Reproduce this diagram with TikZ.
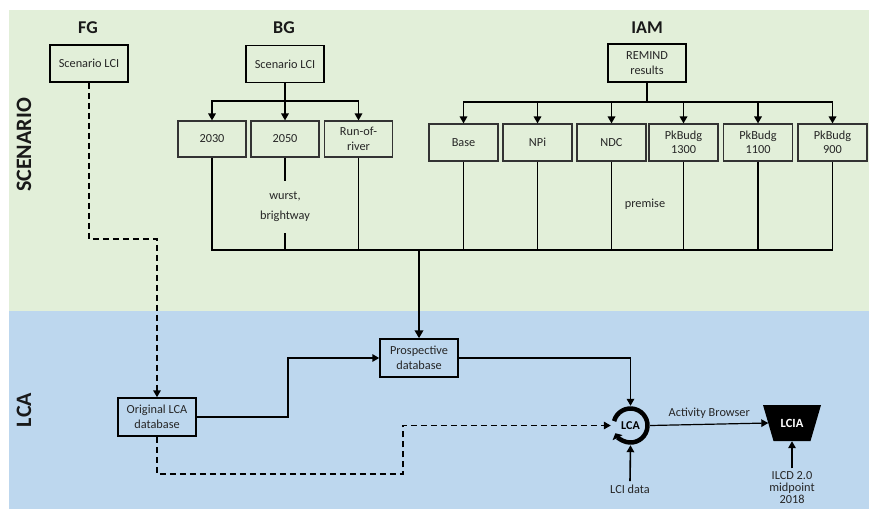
\documentclass[tikz,border=0pt]{standalone}
\usepackage{fontspec}
\setmainfont{Carlito}
\usetikzlibrary{arrows.meta}
\definecolor{scgreen}{HTML}{E2EFD9}
\definecolor{lcablue}{HTML}{BDD7EE}
\begin{document}
\begin{tikzpicture}[x=1pt,y=-1pt,
  box/.style={draw=black!80, line width=1.1pt, minimum width=68pt, minimum height=36pt,
    align=center, font=\fontsize{12.3}{14.5}\selectfont, text=black!85, inner sep=1pt},
  bigbox/.style={box, draw=black, line width=1.8pt, minimum width=78pt, minimum height=37pt},
  title/.style={font=\bfseries\fontsize{18}{20}\selectfont, text=black!90},
  bigtitle/.style={font=\bfseries\fontsize{22}{24}\selectfont, text=black!90, rotate=90},
  lbl/.style={font=\fontsize{12.3}{14}\selectfont, text=black!85, align=center},
  conn/.style={line width=1.6pt},
  tip/.style={-{Triangle[length=7pt,width=7.5pt]}},
  arr/.style={conn, tip},
  dline/.style={line width=1.6pt, dash pattern=on 6pt off 4pt}
]
% section backgrounds
\fill[scgreen] (9,10) rectangle (869,311);
\fill[lcablue] (9,311) rectangle (869,509);
\useasboundingbox (0,0) rectangle (869,509);

% column and section titles
\node[title] (fg) at (88,28) {FG};
\node[title] (bg) at (284,28) {BG};
\node[title] (iam) at (647,28) {IAM};
\node[bigtitle] (scen) at (24,145) {SCENARIO};
\node[bigtitle] (lcat) at (24,410) {LCA};

% scenario sources
\node[bigbox] (fglci) at (89,63.5) {Scenario LCI};
\node[bigbox] (bglci) at (285,64) {Scenario LCI};
\node[bigbox, minimum height=38pt] (remind) at (647,63) {REMIND\\results};

% background variants
\node[box] (y2030) at (212,139) {2030};
\node[box] (y2050) at (285,139) {2050};
\node[box] (ror) at (358.5,139) {Run-of-\\river};

% IAM pathways
\node[box, minimum width=69pt, minimum height=37pt] (base) at (463.5,142.5) {Base};
\node[box, minimum width=69pt, minimum height=37pt] (npi) at (537.5,142.5) {NPi};
\node[box, minimum width=69pt, minimum height=37pt] (ndc) at (611.5,142.5) {NDC};
\node[box, minimum width=69pt, minimum height=37pt] (pk1300) at (683.5,142.5) {PkBudg\\1300};
\node[box, minimum width=69pt, minimum height=37pt] (pk1100) at (758,142.5) {PkBudg\\1100};
\node[box, minimum width=69pt, minimum height=37pt] (pk900) at (832.5,142.5) {PkBudg\\900};

% fan-out from the sources
\coordinate (bgbus) at (285,101);
\coordinate (iambus) at (647,102);
\draw[conn] (bglci.south) -- (bgbus);
\draw[arr] (bgbus) -| (y2030.north);
\draw[arr] (bgbus) -- (y2050.north);
\draw[arr] (bgbus) -| (ror.north);
\draw[line width=2.8pt] (remind.south) -- (iambus);
\draw[arr] (iambus) -| (base.north);
\draw[arr] (iambus) -| (npi.north);
\draw[arr] (iambus) -| (ndc.north);
\draw[arr] (iambus) -| (pk1300.north);
\draw[arr] (iambus) -| (pk1100.north);
\draw[arr] (iambus) -| (pk900.north);

% collecting bus
\coordinate (busL) at (210,250);
\node[lbl, inner ysep=11pt] (wurst) at (285,207) {wurst,\\[6pt]brightway};
\node[lbl] (premise) at (645,204) {premise};
\draw[conn] (y2030.south) -- (y2030.south |- busL) -- (pk900.south |- busL) -- (pk900.south);
\draw[conn] (y2050.south) -- (wurst.north);
\draw[conn] (wurst.south) -- (wurst.south |- busL);
\draw[conn] (ror.south) -- (ror.south |- busL);
\draw[conn] (base.south) -- (base.south |- busL);
\draw[conn] (npi.south) -- (npi.south |- busL);
\draw[conn] (ndc.south) -- (ndc.south |- busL);
\draw[conn] (pk1300.south) -- (pk1300.south |- busL);
\draw[conn] (pk1100.south) -- (pk1100.south |- busL);

% LCA part
\node[bigbox, line width=1.5pt, minimum height=38pt] (prosp) at (419,358) {Prospective\\database};
\node[bigbox, line width=1.5pt, minimum height=38pt] (orig) at (157,417) {Original LCA\\database};
\draw[line width=2.8pt, -{Triangle[length=8pt,width=8.5pt]}] (prosp.north |- busL) -- (prosp.north);

\node[circle, minimum size=39pt, inner sep=0pt, font=\bfseries\fontsize{12}{14}\selectfont] (lca) at (630.5,425.5) {LCA};
\draw[line width=4.5pt, -{Triangle[length=5pt,width=11pt]}] (lca.center) ++(-165:17) arc[start angle=-165, end angle=153, radius=17];

\fill[black] (763,405) -- (821,405) -- (810.5,441) -- (773.5,441) -- cycle;
\node[inner sep=0pt, minimum width=47pt, minimum height=36pt, text=white,
  font=\bfseries\fontsize{12.5}{14}\selectfont] (lcia) at (792,423) {LCIA};

\node[lbl] (lcidata) at (630,489) {LCI data};
\node[lbl, font=\fontsize{12.3}{12}\selectfont] (ilcd) at (792,488) {ILCD 2.0\\midpoint\\2018};

% flows
\coordinate (fgturn) at (89,239);
\coordinate (origturn) at (288,417);
\coordinate (dturn) at (403,474);
\draw[dline, tip] (fglci.south) -- (fgturn) -| (orig.north);
\draw[arr] (orig.east) -- (origturn) |- (prosp.west);
\draw[arr] (prosp.east) -| (lca.north);
\draw[dline, tip] (orig.south) |- (dturn) |- (lca.west);
\draw[arr, line width=1.2pt] (lca.east) -- (lcia.west)
  node[midway, above=2pt, lbl] (ab) {Activity Browser};
\draw[arr] (lcidata.north) -- (lca.south);
\draw[arr] (ilcd.north) -- (lcia.south);
\end{tikzpicture}
\end{document}
